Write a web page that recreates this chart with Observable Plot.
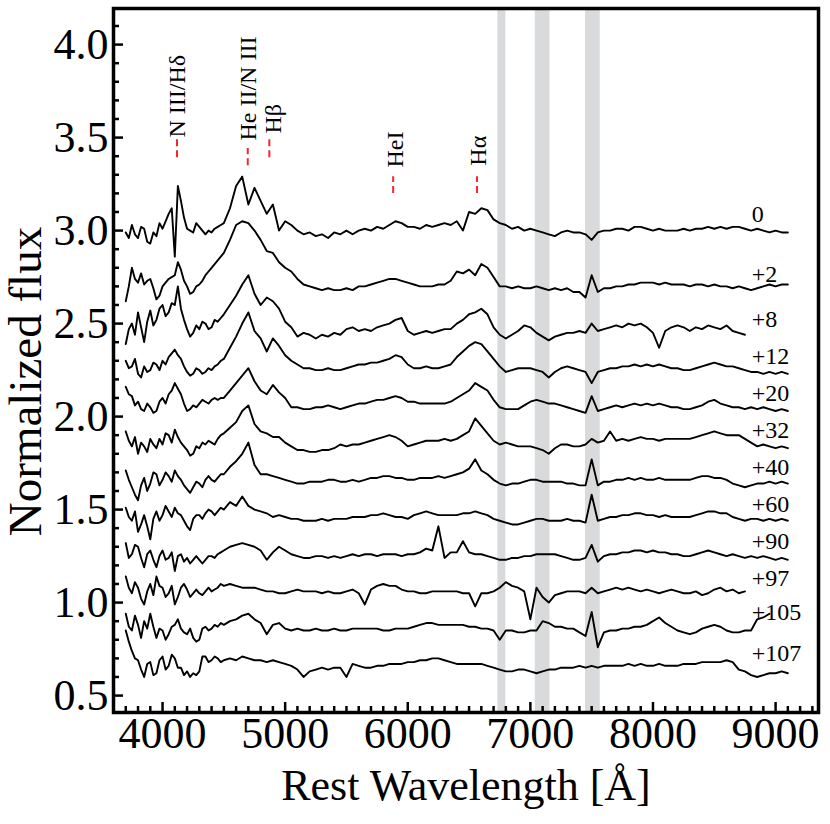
<!DOCTYPE html>
<html><head><meta charset="utf-8">
<script src="https://cdn.jsdelivr.net/npm/d3@7"></script>
<script src="https://cdn.jsdelivr.net/npm/@observablehq/plot@0.6"></script>
<style>body{margin:0;background:#fff}svg{display:block}</style>
</head><body><div id="chart"></div>
<script>
// Sampling grid (Å): 25 Å steps from 3700 to 4475, then 50 Å steps to 9100
const waveGrid = [...d3.range(3700, 4500, 25), ...d3.range(4500, 9101, 50)];
const epochs = ["0","+2","+8","+12","+20","+32","+40","+60","+90","+97","+105","+107"];
const flux0 = [2.99,2.96,3.03,2.98,2.96,3.02,3.01,2.94,2.93,2.99,2.97,3.04,3.01,3.05,3.09,3.12,
 2.86,3.24,3.16,3.07,3.01,3.00,2.99,3.04,3.02,3.00,2.98,3.00,2.99,3.01,3.02,3.03,
 3.04,3.12,3.24,3.29,
 3.14,3.23,3.16,3.09,3.14,3.00,3.05,3.03,3.00,2.98,
 2.99,2.97,2.98,2.96,2.99,2.98,3.00,2.98,3.00,3.01,
 3.00,3.02,3.01,3.03,3.05,3.04,3.02,3.02,3.01,3.03,
 3.02,3.03,3.04,3.03,3.05,3.00,3.10,3.09,3.12,3.11,
 3.06,3.04,3.03,3.01,3.02,3.00,3.01,3.00,2.99,2.98,
 2.97,2.99,3.00,2.99,2.99,2.98,2.95,2.99,3.00,3.00,
 3.01,3.01,3.00,3.02,3.02,3.01,3.00,3.01,3.00,3.00,
 3.00,3.01,3.00,3.01,3.01,3.02,3.01,3.02,3.01,3.02,
 3.02,3.01,3.00,3.01,3.00,2.99,3.00,2.99,2.99];
const flux2 = [2.62,2.70,2.80,2.74,2.72,2.77,2.71,2.73,2.74,2.69,2.63,2.65,2.70,2.72,2.74,2.75,
 2.76,2.83,2.79,2.73,2.70,2.66,2.67,2.70,2.71,2.73,2.76,2.78,2.80,2.82,2.84,2.86,
 2.88,2.95,3.03,3.05,
 3.04,3.00,2.95,2.89,2.88,2.83,2.80,2.78,2.74,2.71,
 2.70,2.69,2.68,2.69,2.68,2.68,2.69,2.68,2.70,2.70,
 2.71,2.72,2.73,2.74,2.74,2.73,2.72,2.71,2.70,2.70,
 2.70,2.71,2.71,2.73,2.78,2.77,2.79,2.76,2.82,2.80,
 2.75,2.70,2.70,2.69,2.70,2.69,2.69,2.70,2.69,2.68,
 2.69,2.68,2.69,2.67,2.67,2.64,2.76,2.67,2.69,2.69,
 2.70,2.70,2.71,2.71,2.72,2.72,2.72,2.71,2.72,2.71,
 2.71,2.71,2.70,2.71,2.71,2.70,2.71,2.70,2.70,2.69,
 2.70,2.69,2.68,2.69,2.70,2.71,2.70,2.71,2.71];
const flux8 = [2.39,2.47,2.50,2.44,2.56,2.48,2.40,2.51,2.57,2.49,2.52,2.58,2.60,2.54,2.56,2.61,
 2.60,2.70,2.58,2.52,2.47,2.43,2.45,2.49,2.47,2.51,2.50,2.47,2.48,2.52,2.51,2.53,
 2.55,2.60,2.65,2.71,
 2.76,2.66,2.60,2.64,2.62,2.58,2.51,2.48,2.43,2.45,
 2.44,2.42,2.44,2.43,2.45,2.44,2.47,2.48,2.46,2.47,
 2.46,2.48,2.49,2.50,2.52,2.53,2.46,2.44,2.45,2.46,
 2.45,2.46,2.47,2.47,2.50,2.52,2.55,2.56,2.58,2.55,
 2.48,2.44,2.42,2.44,2.46,2.49,2.48,2.45,2.43,2.41,
 2.43,2.44,2.45,2.45,2.46,2.45,2.50,2.46,2.47,2.48,
 2.49,2.48,2.50,2.49,2.50,2.48,2.45,2.37,2.46,2.48,
 2.49,2.48,2.46,2.48,2.47,2.49,2.48,2.47,2.49,2.46,
 2.45,2.44];
const flux12 = [2.30,2.26,2.27,2.31,2.23,2.21,2.27,2.24,2.25,2.29,2.28,2.25,2.30,2.28,2.32,2.34,
 2.36,2.33,2.31,2.27,2.24,2.22,2.23,2.26,2.25,2.23,2.24,2.26,2.25,2.27,2.28,2.30,
 2.31,2.37,2.43,2.50,
 2.56,2.46,2.42,2.35,2.42,2.38,2.33,2.30,2.28,2.26,
 2.26,2.25,2.25,2.26,2.25,2.25,2.26,2.27,2.28,2.28,
 2.29,2.29,2.30,2.31,2.33,2.32,2.28,2.26,2.26,2.27,
 2.26,2.26,2.27,2.28,2.32,2.35,2.38,2.40,2.39,2.35,
 2.31,2.27,2.24,2.25,2.26,2.26,2.26,2.25,2.24,2.21,
 2.24,2.26,2.27,2.26,2.25,2.24,2.18,2.24,2.25,2.26,
 2.26,2.27,2.27,2.28,2.27,2.28,2.27,2.28,2.27,2.26,
 2.26,2.25,2.25,2.26,2.27,2.28,2.29,2.28,2.27,2.27,
 2.26,2.25,2.24,2.24,2.23,2.24,2.23,2.24,2.23];
const flux20 = [2.16,2.12,2.11,2.06,2.08,2.04,2.03,2.07,2.05,2.02,2.03,2.08,2.10,2.07,2.12,2.14,
 2.18,2.15,2.12,2.07,2.03,2.04,2.06,2.05,2.07,2.09,2.08,2.07,2.09,2.10,2.09,2.10,
 2.10,2.14,2.18,2.22,
 2.26,2.19,2.14,2.12,2.17,2.13,2.10,2.05,2.05,2.04,
 2.04,2.05,2.05,2.06,2.05,2.04,2.05,2.06,2.07,2.07,
 2.08,2.09,2.09,2.10,2.11,2.10,2.08,2.08,2.07,2.07,
 2.07,2.07,2.07,2.08,2.10,2.12,2.14,2.18,2.16,2.14,
 2.09,2.05,2.04,2.04,2.04,2.06,2.08,2.09,2.08,2.07,
 2.07,2.06,2.05,2.04,2.03,2.02,2.11,2.03,2.04,2.05,
 2.06,2.05,2.06,2.07,2.06,2.07,2.06,2.07,2.06,2.05,
 2.05,2.04,2.04,2.05,2.06,2.08,2.09,2.07,2.06,2.05,
 2.05,2.04,2.05,2.04,2.05,2.04,2.03,2.04,2.03];
const flux32 = [1.92,1.87,1.84,1.89,1.80,1.86,1.84,1.81,1.88,1.85,1.83,1.88,1.85,1.91,1.90,1.86,
 1.93,1.89,1.86,1.84,1.82,1.79,1.80,1.84,1.83,1.86,1.85,1.87,1.86,1.85,1.88,1.90,
 1.91,1.94,1.97,2.03,
 2.06,1.96,1.92,1.91,1.89,1.89,1.86,1.84,1.82,1.82,
 1.81,1.81,1.82,1.82,1.83,1.85,1.84,1.85,1.85,1.86,
 1.87,1.88,1.89,1.90,1.89,1.87,1.84,1.85,1.86,1.87,
 1.87,1.87,1.88,1.87,1.88,1.90,1.92,1.99,1.95,1.91,
 1.87,1.85,1.86,1.85,1.84,1.84,1.84,1.83,1.82,1.80,
 1.83,1.85,1.85,1.84,1.84,1.85,1.88,1.86,1.87,1.92,
 1.87,1.88,1.87,1.88,1.89,1.88,1.88,1.87,1.88,1.88,
 1.88,1.88,1.88,1.89,1.90,1.91,1.92,1.91,1.90,1.90,
 1.90,1.88,1.86,1.84,1.85,1.84,1.83,1.84,1.83];
const flux40 = [1.71,1.66,1.62,1.58,1.55,1.63,1.67,1.60,1.64,1.70,1.69,1.63,1.66,1.70,1.68,1.65,
 1.71,1.68,1.66,1.63,1.61,1.59,1.62,1.65,1.64,1.62,1.66,1.68,1.66,1.65,1.67,1.69,
 1.69,1.73,1.76,1.80,
 1.86,1.74,1.69,1.69,1.68,1.67,1.66,1.65,1.64,1.64,
 1.65,1.65,1.65,1.66,1.66,1.65,1.65,1.66,1.65,1.66,
 1.67,1.67,1.68,1.68,1.67,1.67,1.66,1.66,1.67,1.67,
 1.67,1.68,1.67,1.68,1.69,1.70,1.72,1.77,1.71,1.69,
 1.66,1.64,1.63,1.64,1.64,1.65,1.66,1.66,1.65,1.65,
 1.65,1.65,1.64,1.64,1.63,1.63,1.77,1.63,1.65,1.65,
 1.66,1.66,1.67,1.66,1.67,1.66,1.66,1.67,1.66,1.66,
 1.66,1.66,1.66,1.67,1.68,1.68,1.67,1.67,1.66,1.64,
 1.63,1.62,1.63,1.64,1.64,1.65,1.64,1.65,1.64];
const flux60 = [1.51,1.46,1.44,1.49,1.38,1.42,1.47,1.41,1.34,1.45,1.49,1.44,1.47,1.52,1.49,1.46,
 1.51,1.48,1.47,1.44,1.41,1.39,1.45,1.47,1.47,1.45,1.48,1.50,1.49,1.47,1.49,1.51,
 1.50,1.54,1.52,1.57,
 1.52,1.50,1.49,1.48,1.46,1.47,1.46,1.45,1.45,1.44,
 1.44,1.44,1.45,1.44,1.45,1.45,1.45,1.46,1.46,1.46,
 1.47,1.47,1.48,1.47,1.46,1.46,1.45,1.47,1.48,1.49,
 1.48,1.47,1.47,1.47,1.47,1.48,1.48,1.49,1.48,1.47,
 1.45,1.44,1.43,1.42,1.42,1.43,1.44,1.45,1.45,1.44,
 1.44,1.44,1.45,1.44,1.44,1.43,1.58,1.44,1.45,1.46,
 1.46,1.47,1.47,1.48,1.48,1.47,1.47,1.46,1.47,1.46,
 1.46,1.46,1.46,1.47,1.48,1.49,1.49,1.48,1.48,1.46,
 1.45,1.44,1.45,1.45,1.44,1.45,1.44,1.45,1.44];
const flux90 = [1.32,1.24,1.26,1.31,1.30,1.24,1.19,1.26,1.28,1.23,1.19,1.25,1.28,1.23,1.24,1.27,
 1.17,1.25,1.26,1.22,1.24,1.21,1.23,1.25,1.23,1.21,1.23,1.25,1.25,1.24,1.26,1.27,
 1.28,1.30,1.31,1.32,
 1.31,1.30,1.28,1.23,1.27,1.30,1.28,1.26,1.25,1.24,
 1.24,1.25,1.25,1.24,1.25,1.24,1.25,1.26,1.25,1.26,
 1.26,1.25,1.26,1.26,1.26,1.25,1.26,1.26,1.27,1.29,
 1.28,1.41,1.24,1.27,1.27,1.33,1.27,1.26,1.26,1.25,
 1.24,1.23,1.23,1.24,1.24,1.25,1.25,1.26,1.26,1.26,
 1.26,1.25,1.24,1.23,1.23,1.24,1.31,1.22,1.25,1.26,
 1.26,1.27,1.27,1.28,1.28,1.27,1.28,1.27,1.27,1.26,
 1.26,1.25,1.25,1.26,1.27,1.28,1.27,1.26,1.25,1.26,
 1.25,1.24,1.25,1.24,1.25,1.24,1.23,1.24,1.23];
const flux97 = [1.14,1.08,1.05,1.11,1.08,1.02,0.99,1.06,1.10,1.04,1.14,1.09,1.08,1.03,1.05,1.09,
 0.99,1.03,1.08,1.10,1.07,1.03,1.05,1.07,1.05,1.04,1.06,1.08,1.06,1.07,1.08,1.10,
 1.09,1.10,1.09,1.08,
 1.08,1.08,1.07,1.06,1.06,1.05,1.05,1.06,1.07,1.06,
 1.06,1.06,1.05,1.06,1.05,1.05,1.06,1.07,1.05,0.99,
 1.07,1.09,1.10,1.09,1.09,1.07,1.06,1.06,1.05,1.05,
 1.06,1.06,1.06,1.06,1.06,1.05,1.05,0.98,1.05,1.05,
 1.06,1.08,1.11,1.09,1.08,1.06,0.91,1.08,1.03,1.00,
 1.04,1.05,1.06,1.06,1.06,1.05,1.08,1.05,1.06,1.07,
 1.08,1.07,1.08,1.07,1.06,1.07,1.06,1.05,1.06,1.07,
 1.06,1.05,1.05,1.06,1.04,1.05,1.07,1.08,1.06,1.07,
 1.05,1.06];
const flux105 = [0.94,0.87,0.85,0.93,0.88,0.81,0.90,0.86,0.94,0.87,0.81,0.86,0.85,0.80,0.83,0.87,
 0.88,0.91,0.86,0.84,0.83,0.86,0.81,0.79,0.80,0.86,0.87,0.85,0.86,0.88,0.87,0.89,
 0.88,0.90,0.91,0.93,
 0.94,0.91,0.89,0.83,0.88,0.89,0.86,0.85,0.86,0.85,
 0.85,0.86,0.85,0.85,0.86,0.85,0.85,0.86,0.86,0.86,
 0.86,0.86,0.85,0.85,0.86,0.86,0.86,0.87,0.88,0.89,
 0.89,0.88,0.88,0.88,0.88,0.88,0.87,0.87,0.86,0.86,
 0.85,0.80,0.85,0.85,0.84,0.84,0.85,0.85,0.90,0.89,
 0.87,0.87,0.86,0.86,0.84,0.82,0.95,0.76,0.84,0.85,
 0.85,0.86,0.86,0.87,0.87,0.88,0.90,0.92,0.89,0.87,
 0.85,0.84,0.83,0.84,0.86,0.87,0.88,0.87,0.85,0.84,
 0.84,0.85,0.85,0.91,0.92,0.94];
const flux107 = [0.85,0.79,0.74,0.70,0.69,0.64,0.60,0.67,0.68,0.61,0.62,0.69,0.71,0.64,0.66,0.72,
 0.70,0.65,0.65,0.61,0.63,0.60,0.62,0.61,0.63,0.71,0.71,0.68,0.69,0.71,0.70,0.68,
 0.69,0.70,0.69,0.71,
 0.70,0.69,0.69,0.68,0.69,0.68,0.67,0.66,0.64,0.60,
 0.63,0.64,0.65,0.64,0.65,0.65,0.60,0.67,0.66,0.65,
 0.65,0.66,0.66,0.67,0.67,0.67,0.68,0.68,0.69,0.69,
 0.70,0.70,0.69,0.68,0.67,0.67,0.67,0.67,0.67,0.66,
 0.65,0.64,0.63,0.63,0.64,0.64,0.63,0.62,0.63,0.64,
 0.64,0.65,0.65,0.65,0.66,0.65,0.66,0.65,0.66,0.66,
 0.66,0.66,0.67,0.66,0.67,0.66,0.66,0.67,0.66,0.66,
 0.66,0.67,0.67,0.67,0.68,0.68,0.68,0.68,0.69,0.68,
 0.64,0.63,0.61,0.60,0.61,0.62,0.62,0.63,0.62];
const fluxSeries = [flux0,flux2,flux8,flux12,flux20,flux32,flux40,flux60,flux90,flux97,flux105,flux107];
// epoch label positions (wavelength, flux)
const epochLabelWave = 8805;
const epochLabelFlux = [3.088,2.765,2.523,2.323,2.126,1.928,1.726,1.529,1.332,1.131,0.946,0.727];
// telluric bands [start, end] in Å
const bandStart = [6735, 7040, 7450];
const bandEnd = [6800, 7160, 7570];
// line identifications
const lineNames = ["N III/Hδ", "He II/N III", "Hβ", "HeI", "Hα"];
const lineWave = [4118, 4695, 4871, 5881, 6565];
const markTop = [3.489, 3.441, 3.489, 3.290, 3.290];
const markBottom = [3.392, 3.349, 3.392, 3.199, 3.199];
const labelFlux = [3.500, 3.484, 3.522, 3.339, 3.349];
const labelWave = [4122, 4701, 4905, 5900, 6577];
// axes
const xTicks = [4000,5000,6000,7000,8000,9000];
const yTicks = [0.5,1.0,1.5,2.0,2.5,3.0,3.5,4.0];
const xMinor = d3.range(3700, 9351, 100).filter(v => v % 1000 !== 0);
const yMinor = d3.range(5, 42).map(v => v / 10).filter(v => Math.abs(v * 2 - Math.round(v * 2)) > 1e-6);

const rows = [];
fluxSeries.forEach((arr, k) => arr.forEach((v, i) => rows.push({epoch: epochs[k], wave: waveGrid[i], flux: v})));
const bands = bandStart.map((s, i) => ({s, e: bandEnd[i]}));
const lines = lineNames.map((n, i) => ({n, w: lineWave[i], t: markTop[i], b: markBottom[i], lf: labelFlux[i], lw: labelWave[i]}));
const labels = epochs.map((e, i) => ({e, f: epochLabelFlux[i]}));

const W = 830, H = 824, mL = 113, mR = 12, mT = 8, mB = 112;
const pw = W - mL - mR, ph = H - mT - mB;
const font = "'Liberation Serif', 'Times New Roman', serif";

const chart = Plot.plot({
  width: W, height: H,
  marginLeft: mL, marginRight: mR, marginTop: mT, marginBottom: mB,
  style: {fontFamily: font, background: "#fff", color: "#000"},
  x: {domain: [3600, 9350]},
  y: {domain: [0.409, 4.194]},
  marks: [
    Plot.rect(bands, {x1: "s", x2: "e", fill: "#d9dadb"}),
    Plot.line(rows, {x: "wave", y: "flux", z: "epoch", stroke: "#000", strokeWidth: 1.9, strokeLinejoin: "round"}),
    Plot.ruleX(lines, {x: "w", y1: "b", y2: "t", stroke: "#f0282d", strokeWidth: 2, strokeDasharray: "7,4"}),
    Plot.text(lines, {x: "lw", y: "lf", text: "n", rotate: -90, textAnchor: "start", lineAnchor: "middle", fontSize: 24, fill: "#000"}),
    Plot.text(labels, {x: () => epochLabelWave, y: "f", text: "e", textAnchor: "start", lineAnchor: "middle", fontSize: 24, fill: "#000"}),
    Plot.tickY(yTicks, {y: d => d, stroke: "#000", strokeWidth: 2.5, insetRight: pw - 10}),
    Plot.tickY(yMinor, {y: d => d, stroke: "#000", strokeWidth: 2.5, insetRight: pw - 6}),
    Plot.tickX(xTicks, {x: d => d, stroke: "#000", strokeWidth: 2.5, insetTop: ph - 10}),
    Plot.tickX(xMinor, {x: d => d, stroke: "#000", strokeWidth: 2.5, insetTop: ph - 6}),
    Plot.axisY({ticks: yTicks, tickFormat: d => d.toFixed(1), tickSize: 0, tickPadding: 5, fontSize: 44, label: null}),
    Plot.axisX({ticks: xTicks, tickFormat: d => String(d), tickSize: 0, tickPadding: 4, fontSize: 44, label: null}),
    Plot.text(["Rest Wavelength [Å]"], {frameAnchor: "bottom", dy: 73, textAnchor: "middle", lineAnchor: "middle", fontSize: 44, fill: "#000"}),
    Plot.text(["Normalized flux"], {frameAnchor: "left", dx: -88, dy: 21, rotate: -90, textAnchor: "middle", lineAnchor: "middle", fontSize: 47, fill: "#000"}),
    Plot.frame({stroke: "#000", strokeWidth: 3.5})
  ]
});
document.getElementById("chart").appendChild(chart);
</script>
</body></html>
